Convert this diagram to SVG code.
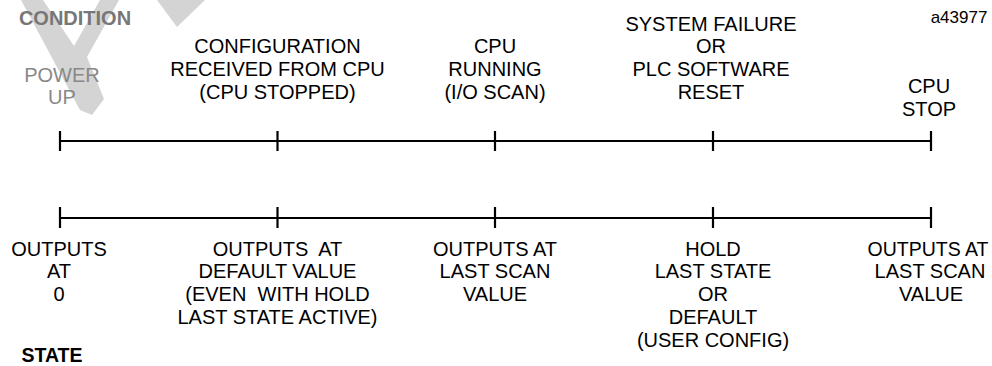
<svg xmlns="http://www.w3.org/2000/svg" width="992" height="366" viewBox="0 0 992 366">
<style>
text{font-family:"Liberation Sans",Arial,sans-serif;font-size:20px;fill:#000;text-anchor:middle}
.b{font-weight:bold}
.g{fill:#777}
.g2{fill:#888}
.ln{stroke:#000;stroke-width:2.2;fill:none}
.wm{fill:#d4d4d4}
</style>
<g id="watermark">
<polygon class="wm" points="21,0 43,0 74,46 100,0 119,0 87,57 104,99 92,115 80,110"/>
<polygon class="wm" points="157,0 205,0 177,27"/>
</g>
<g id="labels">
<text class="b g" x="75" y="25">CONDITION</text>
<text x="959" y="23" style="font-size:17px">a43977</text>
<text class="b" x="52" y="362" style="font-size:19.5px">STATE</text>
</g>
<g id="connectors">
<path class="ln" d="M60,141H931M60,131V151M277.5,131V151M495,131V151M713,131V151M931,131V151"/>
<path class="ln" d="M60,218H931M60,207V228M277.5,207V228M495,207V228M713,207V228M931,207V228"/>
</g>
<g id="cond-powerup"><text class="g2" x="62" y="82">POWER</text><text class="g2" x="62" y="104">UP</text></g>
<g id="cond-config"><text x="277.5" y="53">CONFIGURATION</text><text x="277.5" y="76">RECEIVED FROM CPU</text><text x="277.5" y="99">(CPU STOPPED)</text></g>
<g id="cond-running"><text x="495" y="53">CPU</text><text x="495" y="76">RUNNING</text><text x="495" y="99">(I/O SCAN)</text></g>
<g id="cond-failure"><text x="711" y="31">SYSTEM FAILURE</text><text x="711" y="53">OR</text><text x="711" y="76">PLC SOFTWARE</text><text x="711" y="99">RESET</text></g>
<g id="cond-stop"><text x="929" y="93">CPU</text><text x="929" y="116">STOP</text></g>
<g id="state-zero"><text x="59" y="256">OUTPUTS</text><text x="59" y="278">AT</text><text x="59" y="301">0</text></g>
<g id="state-default"><text x="277.5" y="256" xml:space="preserve">OUTPUTS  AT</text><text x="277.5" y="278">DEFAULT VALUE</text><text x="277.5" y="301" xml:space="preserve">(EVEN  WITH HOLD</text><text x="277.5" y="324">LAST STATE ACTIVE)</text></g>
<g id="state-lastscan1"><text x="495" y="256">OUTPUTS AT</text><text x="495" y="278">LAST SCAN</text><text x="495" y="301">VALUE</text></g>
<g id="state-hold"><text x="713" y="256">HOLD</text><text x="713" y="278">LAST STATE</text><text x="713" y="301">OR</text><text x="713" y="324">DEFAULT</text><text x="713" y="347">(USER CONFIG)</text></g>
<g id="state-lastscan2"><text x="928" y="256" textLength="121" lengthAdjust="spacingAndGlyphs">OUTPUTS AT</text><text x="930" y="278">LAST SCAN</text><text x="931" y="301">VALUE</text></g>
</svg>
